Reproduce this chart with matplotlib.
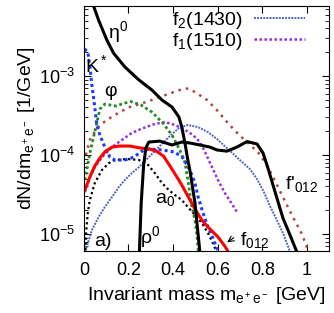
import numpy as np
import matplotlib
matplotlib.use("Agg")
import matplotlib.pyplot as plt

plt.rcParams['font.family'] = ['Liberation Sans', 'DejaVu Sans']
plt.rcParams['mathtext.fontset'] = 'custom'
plt.rcParams['mathtext.rm'] = 'Liberation Sans'
plt.rcParams['mathtext.it'] = 'Liberation Sans:italic'
plt.rcParams['mathtext.default'] = 'regular'

# curves (mass in GeV, dN/dm in 1/GeV)
eta_m = [0.018, 0.0435, 0.066, 0.103, 0.133, 0.184, 0.247, 0.305, 0.350, 0.395,
         0.426, 0.439, 0.453, 0.466, 0.475, 0.498, 0.52]
eta_y = [1.2e-2, 7.7e-3, 5.1e-3, 2.86e-3, 1.95e-3, 1.30e-3, 8.9e-4, 6.65e-4, 4.97e-4,
         4.05e-4, 3.03e-4, 2.26e-4, 1.42e-4, 8.65e-5, 6.46e-5, 2.47e-5, 5.9e-6]

rho_m = [0.248, 0.257, 0.268, 0.278, 0.291, 0.341, 0.395, 0.439, 0.475, 0.52, 0.565,
         0.596, 0.641, 0.686, 0.731, 0.776, 0.803, 0.825, 0.857, 0.892, 0.924, 0.955]
rho_y = [5e-6, 2.47e-5, 7.46e-5, 1.23e-4, 1.46e-4, 1.50e-4, 1.34e-4, 1.46e-4, 1.42e-4,
         1.34e-4, 1.26e-4, 1.16e-4, 1.12e-4, 1.26e-4, 1.48e-4, 1.38e-4, 1.06e-4,
         6.84e-5, 3.4e-5, 1.6e-5, 9.7e-6, 5.9e-6]

kst_m = [0.003, 0.018, 0.027, 0.036, 0.045, 0.052, 0.058, 0.072, 0.094, 0.117, 0.139,
         0.184, 0.224, 0.260, 0.291, 0.350, 0.408, 0.444, 0.475, 0.498, 0.511, 0.534,
         0.556, 0.578, 0.601]
kst_y = [2.2e-3, 2.0e-3, 1.34e-3, 7.7e-4, 4.97e-4, 3.4e-4, 2.4e-4, 1.79e-4, 1.26e-4,
         9.4e-5, 8.65e-5, 8.65e-5, 9.4e-5, 1.12e-4, 1.19e-4, 1.16e-4, 1.09e-4, 9.2e-5,
         6.46e-5, 4.42e-5, 3.03e-5, 1.85e-5, 1.23e-5, 8.9e-6, 6.1e-6]

phi_m = [0.0045, 0.027, 0.0435, 0.058, 0.072, 0.094, 0.143, 0.184, 0.211, 0.256, 0.305,
         0.354, 0.395, 0.430, 0.453, 0.466, 0.482, 0.498, 0.507, 0.513]
phi_y = [4.83e-5, 1.06e-4, 1.69e-4, 2.54e-4, 3.82e-4, 4.42e-4, 4.17e-4, 4.55e-4, 4.75e-4,
         4.3e-4, 3.5e-4, 2.54e-4, 1.79e-4, 1.16e-4, 8.1e-5, 4.83e-5, 2.4e-5, 1.5e-5,
         9.7e-6, 5.9e-6]

f0_m = [0.0045, 0.027, 0.049, 0.072, 0.094, 0.126, 0.161, 0.206, 0.251, 0.296, 0.327,
        0.357, 0.386, 0.417, 0.439, 0.466, 0.498, 0.529, 0.556, 0.601, 0.632, 0.648]
f0_y = [3.6e-5, 5.27e-5, 7.26e-5, 9.17e-5, 1.09e-4, 1.26e-4, 1.30e-4, 1.30e-4, 1.23e-4,
        1.19e-4, 1.11e-4, 9.7e-5, 7.26e-5, 5.27e-5, 4.17e-5, 3.03e-5, 2.07e-5, 1.5e-5,
        1.23e-5, 9.2e-6, 7.0e-6, 5.9e-6]

a0_m = [0.007, 0.011, 0.018, 0.027, 0.049, 0.081, 0.112, 0.139, 0.197, 0.247, 0.289,
        0.318, 0.350, 0.381, 0.408, 0.439, 0.466, 0.498, 0.529, 0.556, 0.578, 0.596]
a0_y = [6.3e-6, 1.12e-5, 1.9e-5, 2.7e-5, 4.42e-5, 6.46e-5, 7.9e-5, 8.65e-5, 8.9e-5,
        8.65e-5, 7.46e-5, 5.9e-5, 4.42e-5, 3.6e-5, 3.12e-5, 2.7e-5, 2.2e-5, 1.74e-5,
        1.38e-5, 1.03e-5, 7.7e-6, 5.9e-6]

f2_m = [0.007, 0.036, 0.066, 0.094, 0.126, 0.157, 0.184, 0.215, 0.247, 0.291, 0.336,
        0.381, 0.426, 0.466, 0.511, 0.556, 0.596, 0.646, 0.704, 0.744, 0.776, 0.807,
        0.834, 0.865, 0.892, 0.915, 0.924]
f2_y = [6.1e-6, 1.12e-5, 1.64e-5, 2.2e-5, 2.94e-5, 3.94e-5, 4.83e-5, 5.9e-5, 7.05e-5,
        9.4e-5, 1.26e-4, 1.69e-4, 2.2e-4, 2.4e-4, 2.26e-4, 1.95e-4, 1.6e-4, 1.19e-4,
        8.4e-5, 6.65e-5, 4.97e-5, 3.4e-5, 2.26e-5, 1.5e-5, 1.03e-5, 7.0e-6, 5.9e-6]

f1_m = [0.0045, 0.027, 0.049, 0.081, 0.126, 0.170, 0.215, 0.260, 0.318, 0.363, 0.408,
        0.448, 0.489, 0.520, 0.543, 0.570, 0.601, 0.632, 0.661, 0.686]
f1_y = [3.4e-5, 5.27e-5, 7.05e-5, 9.4e-5, 1.26e-4, 1.55e-4, 1.9e-4, 2.16e-4, 2.47e-4,
        2.62e-4, 2.4e-4, 2.13e-4, 1.79e-4, 1.46e-4, 1.09e-4, 7.46e-5, 4.83e-5, 3.3e-5,
        2.47e-5, 1.9e-5]

fp_m = [0.009, 0.027, 0.043, 0.072, 0.117, 0.161, 0.206, 0.265, 0.323, 0.377, 0.430,
        0.462, 0.498, 0.552, 0.596, 0.641, 0.691, 0.735, 0.780, 0.812, 0.848, 0.892,
        0.937, 0.975, 0.998, 1.007]
fp_y = [1.0e-4, 1.55e-4, 1.85e-4, 2.4e-4, 2.94e-4, 3.5e-4, 4.05e-4, 4.55e-4, 5.19e-4,
        5.9e-4, 6.65e-4, 6.95e-4, 6.27e-4, 4.97e-4, 3.71e-4, 2.62e-4, 1.85e-4, 1.42e-4,
        1.09e-4, 8.1e-5, 5.27e-5, 2.94e-5, 1.64e-5, 1.03e-5, 7.0e-6, 5.9e-6]

fig = plt.figure(figsize=(3.34, 3.13), dpi=100)
ax = fig.add_axes([0.251, 0.198, 0.735, 0.783])

ax.plot(fp_m, fp_y, color='#b84040', lw=1.8, ls=(0, (1, 2)))
l1, = ax.plot(f1_m, f1_y, color='#9a2be2', lw=1.8, ls=(0, (1, 1)))
l2, = ax.plot(f2_m, f2_y, color='#5064c8', lw=1.4, ls=(0, (1, 0.6)))
ax.plot(phi_m, phi_y, color='#208a20', lw=2.0, ls=(0, (1, 1)))
ax.plot(a0_m, a0_y, color='black', lw=1.6, ls=(0, (1, 1.3)))
ax.plot(kst_m, kst_y, color='#1a3cff', lw=2.2, ls=(0, (1, 1)))
ax.plot(f0_m, f0_y, color='red', lw=2.2)
ax.plot(eta_m, eta_y, color='black', lw=2.2)
ax.plot(rho_m, rho_y, color='black', lw=2.2)

ax.set_yscale('log')
ax.set_xlim(0, 1.1)
ax.set_ylim(6.1e-6, 7.7e-3)
ax.set_xticks([0, 0.2, 0.4, 0.6, 0.8, 1])
ax.set_xticklabels(['0', '0.2', '0.4', '0.6', '0.8', '1'])
ax.tick_params(which='both', direction='in', top=True, right=True, labelsize=13)
ax.tick_params(which='major', length=5, width=0.8)
ax.tick_params(which='minor', length=3, width=0.6)
ax.tick_params(axis='x', pad=8)
ax.tick_params(axis='y', pad=6)

ax.set_xlabel('Invariant mass m$_{e^+e^-}$ [GeV]', fontsize=14, labelpad=4)
ax.set_ylabel('dN/dm$_{e^+e^-}$ [1/GeV]', fontsize=14, labelpad=2)

fs = 14
ax.text(0.152, 3.6e-3, 'η$^0$', fontsize=fs, ha='center', va='center')
ax.text(0.058, 1.38e-3, 'K$^*$', fontsize=fs, ha='center', va='center')
ax.text(0.121, 6.46e-4, 'φ', fontsize=fs, ha='center', va='center')
ax.text(0.363, 2.7e-5, 'a$_0$', fontsize=fs, ha='center', va='center')
ax.text(0.296, 9.2e-6, 'ρ$^0$', fontsize=fs, ha='center', va='center')
ax.text(0.085, 8.1e-6, 'a)', fontsize=fs, ha='center', va='center')
ax.text(0.70, 8.4e-6, 'f$_{012}$', fontsize=fs, ha='left', va='center')
ax.text(0.901, 4.3e-5, "f'$_{012}$", fontsize=fs, ha='left', va='center')
ax.annotate('', xy=(0.632, 7.5e-6), xytext=(0.682, 9.4e-6),
            arrowprops=dict(arrowstyle='->', color='black', lw=0.8))

ax.legend([l2, l1], ['f$_2$(1430)', 'f$_1$(1510)'], loc='upper right',
          bbox_to_anchor=(0.90, 0.985), frameon=False, markerfirst=False,
          fontsize=14, handlelength=2.6, handletextpad=0.6, labelspacing=0.0,
          borderpad=0, borderaxespad=0)

fig.savefig('out.png', dpi=100)
